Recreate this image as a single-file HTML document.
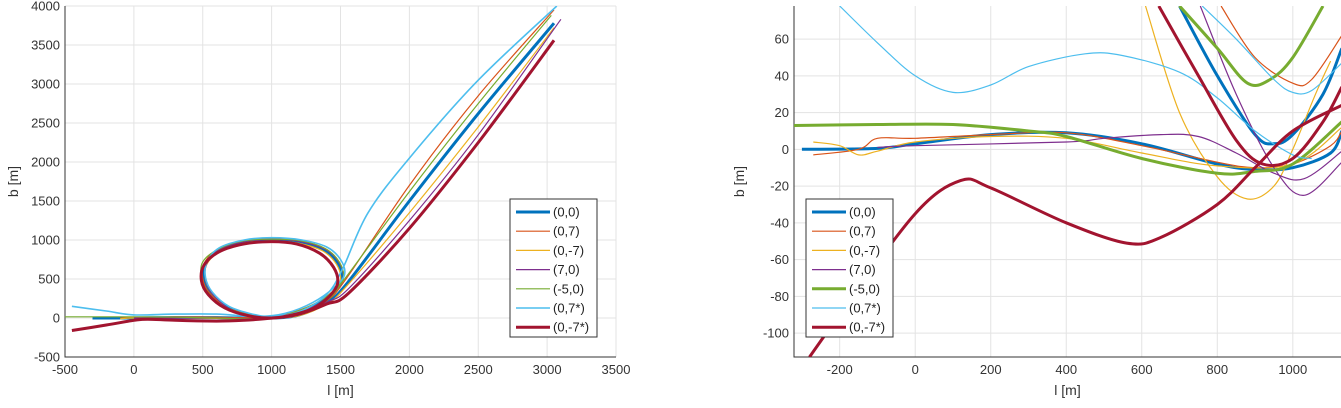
<!DOCTYPE html>
<html><head><meta charset="utf-8"><style>
html,body{margin:0;padding:0;background:#fff;width:1341px;height:408px;overflow:hidden}
svg{display:block;font-family:"Liberation Sans",sans-serif}
</style></head><body>
<svg id="svg" width="1341" height="408" viewBox="0 0 1341 408">
<defs>
<clipPath id="cl"><rect x="65" y="6" width="551" height="351"/></clipPath>
<clipPath id="cr"><rect x="794" y="6" width="547" height="351"/></clipPath>
</defs>
<g id="left"></g>
<g id="right"></g>
</svg>
<script>
const seriesNames=["(0,0)","(0,7)","(0,-7)","(7,0)","(-5,0)","(0,7*)","(0,-7*)"];
const seriesColors=["#0072BD","#D95319","#EDB120","#7E2F8E","#77AC30","#4DBEEE","#A2142F"];
const leftWidths=[3,1.2,1.2,1.2,1.2,1.6,3];
const rightWidths=[3,1.2,1.2,1.2,3,1.2,3];
const leftXTicks=[-500,0,500,1000,1500,2000,2500,3000,3500];
const leftYTicks=[-500,0,500,1000,1500,2000,2500,3000,3500,4000];
const rightXTicks=[-200,0,200,400,600,800,1000];
const rightYTicks=[-100,-80,-60,-40,-20,0,20,40,60];
// left chart trajectories [l,b]
const leftBlue=[[-300,0],[0,0],[300,5],[600,5],[900,0],[1100,40],[1300,150],[1450,330],[1510,500],[1480,700],[1380,870],[1200,970],[1000,1000],[800,970],[620,870],[520,700],[510,500],[560,320],[680,130],[850,30],[1000,0],[1200,40],[1400,200],[1550,450],[2000,1500],[2500,2620],[3050,3780]];
const leftOrange=[[-100,10],[0,5],[300,15],[600,10],[900,5],[1100,50],[1300,170],[1450,350],[1520,520],[1490,720],[1390,890],[1210,990],[1000,1020],[800,990],[610,880],[510,700],[500,500],[550,320],[670,140],[850,40],[1000,10],[1200,50],[1400,220],[1540,500],[2000,1700],[2500,2850],[3050,3950]];
const leftYellow=[[-100,-10],[0,0],[300,0],[600,-5],[900,-10],[1100,30],[1300,140],[1450,320],[1500,490],[1470,690],[1370,860],[1190,960],[1000,990],[800,960],[630,860],[530,690],[520,490],[570,310],[690,120],[860,20],[1000,-5],[1200,30],[1400,180],[1540,400],[2000,1350],[2500,2450],[3050,3720]];
const leftPurple=[[0,0],[300,0],[600,0],[900,-10],[1100,30],[1300,140],[1450,330],[1520,500],[1490,710],[1390,880],[1210,980],[1000,1010],[800,980],[620,880],[530,700],[520,500],[570,310],[700,110],[870,15],[1000,-10],[1200,40],[1400,200],[1560,380],[2000,1250],[2500,2350],[3100,3830]];
const leftGreen=[[-500,15],[-200,15],[0,15],[300,10],[600,0],[900,-10],[1100,40],[1300,170],[1450,350],[1520,520],[1490,720],[1390,890],[1210,990],[1000,1010],[800,990],[620,890],[500,720],[490,510],[540,320],[660,140],[840,40],[1000,10],[1200,60],[1400,230],[1530,500],[2000,1620],[2500,2750],[3030,3880]];
const leftCyan=[[-450,150],[-200,90],[0,40],[300,50],[600,50],[900,20],[1100,60],[1300,200],[1460,400],[1530,560],[1500,750],[1400,910],[1220,1000],[1000,1030],[800,1000],[620,900],[530,720],[520,520],[570,330],[690,150],[860,50],[1000,20],[1200,80],[1400,300],[1520,650],[1700,1350],[2000,2050],[2500,3050],[3070,4000]];
const leftRed=[[-450,-160],[-200,-90],[0,-30],[100,-15],[300,-30],[600,-40],[800,-30],[950,-10],[1100,20],[1300,120],[1420,280],[1480,450],[1450,650],[1350,830],[1180,950],[1000,980],[800,950],[620,850],[510,680],[490,480],[540,300],[660,130],[830,30],[1000,0],[1200,50],[1400,180],[1560,320],[2000,1150],[2500,2250],[3050,3560]];
const leftSeries=[leftBlue,leftOrange,leftYellow,leftPurple,leftGreen,leftCyan,leftRed];
// right chart (zoom), each series has main branch and loop branch
const rightBlue=[[[-300,0],[-100,0.5],[0,3],[200,8],[400,9],[600,3],[800,-8],[900,-11],[1000,-10],[1100,-2],[1130,10]],[[700,78],[800,40],[900,8],[950,3],[1000,8],[1080,30],[1130,55]]];
const rightOrange=[[[-270,-3],[-150,0],[-100,6],[0,6],[200,8],[400,9],[600,2],[800,-7],[900,-10],[1000,-8],[1100,2],[1130,10]],[[810,78],[900,50],[1000,36],[1050,38],[1130,62]]];
const rightYellow=[[[-270,4],[-200,2],[-150,-3],[-100,-1],[0,4],[200,7],[400,6],[600,-2],[800,-9],[1000,-8],[1130,12]],[[610,78],[700,20],[800,-15],[880,-27],[950,-20],[1000,0],[1060,30],[1100,48]]];
const rightPurple=[[[-100,1],[0,2],[400,4],[500,6],[650,8],[750,7],[850,-2],[950,-13],[1030,-16],[1130,-1]],[[755,78],[850,30],[950,-10],[1030,-25],[1130,-7]]];
const rightGreen=[[[-330,13],[-100,13.5],[100,13.5],[300,10],[400,7],[600,-5],[800,-13],[900,-12],[1000,-8],[1130,15]],[[700,78],[800,55],[880,36],[940,38],[1000,50],[1080,78]]];
const rightCyan=[[[-200,78],[-100,58],[0,40],[100,31],[200,35],[300,45],[450,52],[550,51],[700,42],[800,28],[900,10],[1000,-3],[1050,-5]],[[760,78],[850,60],[950,38],[1000,31],[1050,32],[1130,47]]];
const rightRed=[[[-280,-113],[-200,-90],[0,-35],[120,-17],[200,-21],[400,-40],[560,-51],[650,-48],[800,-30],[900,-10],[1000,10],[1130,24]],[[645,78],[750,40],[850,5],[920,-8],[1000,-5],[1080,15],[1130,34]]];
const rightSeries=[rightBlue,rightOrange,rightYellow,rightPurple,rightGreen,rightCyan,rightRed];

const NS="http://www.w3.org/2000/svg";
function mk(tag,attrs,parent){const e=document.createElementNS(NS,tag);for(const k in attrs)e.setAttribute(k,attrs[k]);parent.appendChild(e);return e;}
function pathD(pts,X,Y){
  const p=pts.map(q=>[X(q[0]),Y(q[1])]);
  let d="M"+p[0][0].toFixed(1)+","+p[0][1].toFixed(1);
  for(let i=0;i<p.length-1;i++){
    const p0=p[Math.max(0,i-1)],p1=p[i],p2=p[i+1],p3=p[Math.min(p.length-1,i+2)];
    const c1=[p1[0]+(p2[0]-p0[0])/6,p1[1]+(p2[1]-p0[1])/6];
    const c2=[p2[0]-(p3[0]-p1[0])/6,p2[1]-(p3[1]-p1[1])/6];
    d+="C"+c1.map(v=>v.toFixed(1))+" "+c2.map(v=>v.toFixed(1))+" "+p2.map(v=>v.toFixed(1));
  }
  return d;
}
function axes(g,cfg){
  const {x0,x1,y0,y1,X,Y,xt,yt,ylabX,ylabel}=cfg;
  xt.forEach(v=>{
    const l=mk("line",{x1:X(v),x2:X(v),y1:y0,y2:y1,stroke:"#e3e3e3","stroke-width":1},g);
    
    
    const t=mk("text",{x:X(v),y:y1+17,"text-anchor":"middle","font-size":13,fill:"#333"},g);
    t.textContent=v;
    
    
  });
  yt.forEach(v=>{
    const l=mk("line",{x1:x0,x2:x1,y1:Y(v),y2:Y(v),stroke:"#e3e3e3","stroke-width":1},g);
    
    
    const t=mk("text",{x:x0-5,y:Y(v)+4.5,"text-anchor":"end","font-size":13,fill:"#333"},g);
    t.textContent=v;
    
    
  });
  const ax=mk("path",{d:`M${x0},${y0}V${y1}H${x1}`,fill:"none",stroke:"#333","stroke-width":1},g);
  
  
  const xl=mk("text",{x:(x0+x1)/2,y:y1+38,"text-anchor":"middle","font-size":14,fill:"#333"},g);
  xl.textContent="l [m]";
  
  
  const yl=mk("text",{x:ylabX,y:(y0+y1)/2,"text-anchor":"middle","font-size":14,fill:"#333",transform:`rotate(-90 ${ylabX} ${(y0+y1)/2})`},g);
  yl.textContent=ylabel;
  
  
}
function legend(g,lx,ly,widths){
  const box=mk("rect",{x:lx,y:ly,width:87,height:138,fill:"#fff",stroke:"#333","stroke-width":1},g);
  
  
  seriesNames.forEach((n,i)=>{
    const yy=ly+13+i*19.2;
    const l=mk("line",{x1:lx+6,x2:lx+40,y1:yy,y2:yy,stroke:seriesColors[i],"stroke-width":widths[i]},g);
    
    
    const t=mk("text",{x:lx+43,y:yy+4.5,"font-size":13,fill:"#222"},g);
    t.textContent=n;
    
    
  });
}
// left chart
const gl=document.getElementById("left");
const LX=v=>65+(v+500)*551/4000, LY=v=>6+(4000-v)*351/4500;
axes(gl,{x0:65,x1:616,y0:6,y1:357,X:LX,Y:LY,xt:leftXTicks,yt:leftYTicks,ylabX:18,ylabel:"b [m]"});
const gls=mk("g",{"clip-path":"url(#cl)"},gl);
leftSeries.forEach((s,i)=>{
  const p=mk("path",{d:pathD(s,LX,LY),fill:"none",stroke:seriesColors[i],"stroke-width":leftWidths[i],"stroke-linejoin":"round"},gls);
  
  
});
legend(gl,510,199,leftWidths);
// right chart
const gr=document.getElementById("right");
const RX=v=>794+(v+321)*546/1446, RY=v=>6+(78-v)*351/191;
axes(gr,{x0:794,x1:1341,y0:6,y1:357,X:RX,Y:RY,xt:rightXTicks,yt:rightYTicks,ylabX:744,ylabel:"b [m]"});
const grs=mk("g",{"clip-path":"url(#cr)"},gr);
rightSeries.forEach((s,i)=>{
  s.forEach(br=>{
    const p=mk("path",{d:pathD(br,RX,RY),fill:"none",stroke:seriesColors[i],"stroke-width":rightWidths[i],"stroke-linejoin":"round"},grs);
    
    
  });
});
legend(gr,806,199,rightWidths);
</script>
</body></html>
